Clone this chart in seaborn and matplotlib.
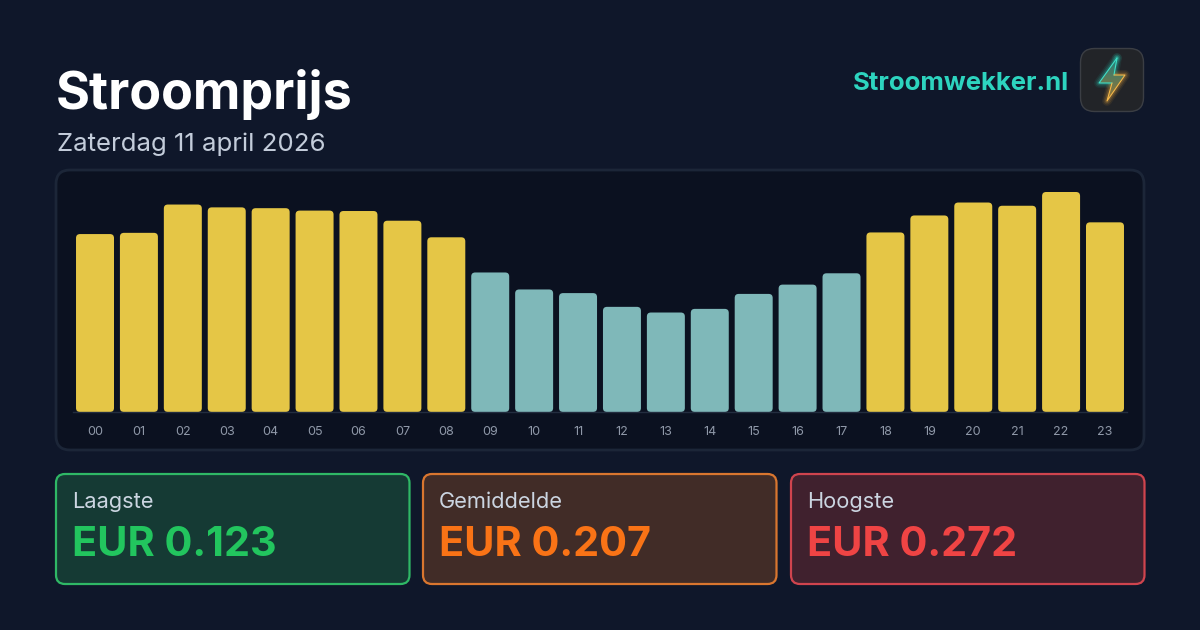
import numpy as np
import pandas as pd
import seaborn as sns
import matplotlib.pyplot as plt
from matplotlib.patches import FancyBboxPatch, Polygon

# data
hours = ['00', '01', '02', '03', '04', '05', '06', '07', '08', '09', '10', '11',
         '12', '13', '14', '15', '16', '17', '18', '19', '20', '21', '22', '23']
prices = [0.220, 0.2215, 0.2565, 0.253, 0.252, 0.249, 0.2485, 0.2365, 0.216, 0.1725, 0.1515, 0.147,
          0.130, 0.123, 0.1275, 0.146, 0.1575, 0.1715, 0.222, 0.243, 0.259, 0.255, 0.272, 0.2345]
levels = ['mid', 'mid', 'mid', 'mid', 'mid', 'mid', 'mid', 'mid', 'mid', 'low', 'low', 'low',
          'low', 'low', 'low', 'low', 'low', 'low', 'mid', 'mid', 'mid', 'mid', 'mid', 'mid']
level_colors = {'mid': '#e5c646', 'low': '#7fb8b9'}

stat_labels = ['Laagste', 'Gemiddelde', 'Hoogste']
stat_values = ['EUR 0.123', 'EUR 0.207', 'EUR 0.272']
stat_colors = ['#22c55e', '#f97316', '#ef4444']
stat_fills = ['#153a34', '#412c27', '#40212e']
stat_edges = ['#2fb866', '#d9762f', '#cf444e']
stat_left = [56, 423, 791]

FONT = 'Inter'
BG = '#0f172a'
px = 100 / 72  # pixel size -> points at dpi 100 is px / px

sns.set_theme(style='dark')
plt.rcParams['font.family'] = [FONT, 'DejaVu Sans']

fig = plt.figure(figsize=(12, 6.3), dpi=100, facecolor=BG)

# full-figure layer in pixel coordinates for the cards and the header
bg = fig.add_axes([0, 0, 1, 1], zorder=0)
bg.set_xlim(0, 1200)
bg.set_ylim(630, 0)
bg.axis('off')


def card(x, y, w, h, r, fill, edge, lw=1.5):
    bg.add_patch(FancyBboxPatch((x + r, y + r), w - 2 * r, h - 2 * r,
                                boxstyle=f'round,pad={r},rounding_size={r}',
                                facecolor=fill, edgecolor=edge, linewidth=lw))


def label(x, y, s, size, color, weight='normal', ha='left'):
    bg.text(x, y, s, fontsize=size / px, color=color, fontweight=weight, ha=ha, va='baseline')


# header
label(56, 108.5, 'Stroomprijs', 52, 'white', 'bold')
label(57, 151, 'Zaterdag 11 april 2026', 25.8, '#c3ccda')
label(1068.5, 90, 'Stroomwekker.nl', 25.7, '#2dd4bf', 'bold', ha='right')

# logo
card(1080.5, 48.5, 63, 63, 14, '#222428', '#3b3e44', lw=1)
bolt = [(1117, 58), (1099, 83), (1112, 83), (1107, 101), (1125, 75), (1114, 75)]
for lw, alpha in [(7, 0.08), (5, 0.12), (3, 0.18)]:
    bg.plot([1117, 1099, 1112], [58, 83, 83], color='#2dd4bf', lw=lw, alpha=alpha, solid_capstyle='round')
    bg.plot([1114, 1117], [75, 58], color='#2dd4bf', lw=lw, alpha=alpha, solid_capstyle='round')
    bg.plot([1112, 1107, 1125, 1114], [83, 101, 75, 75], color='#f5b041', lw=lw, alpha=alpha, solid_capstyle='round')
fill_grad = np.linspace(0, 1, 50).reshape(-1, 1)
teal = np.array([0.12, 0.50, 0.50])
amber = np.array([0.62, 0.45, 0.18])
grad_img = teal + (amber - teal) * fill_grad[..., None]
im = bg.imshow(grad_img, extent=(1095, 1130, 101, 58), aspect='auto', zorder=3)
im.set_clip_path(Polygon(bolt, closed=True, transform=bg.transData))
bg.set_xlim(0, 1200)
bg.set_ylim(630, 0)
bg.plot([1117, 1099, 1112], [58, 83, 83], color='#3fe0c8', lw=0.8, zorder=4)
bg.plot([1114, 1117], [75, 58], color='#3fe0c8', lw=0.8, zorder=4)
bg.plot([1112, 1107, 1125, 1114], [83, 101, 75, 75], color='#f5b84a', lw=0.8, zorder=4)

# chart panel
card(56, 170, 1088, 280, 14, '#0b1120', '#1c2638', lw=2)

# stat cards
for name, value, color, fill, edge, x in zip(stat_labels, stat_values, stat_colors,
                                              stat_fills, stat_edges, stat_left):
    card(x, 474, 353.5, 110, 9, fill, edge, lw=1.6)
    label(x + 16, 508, name, 21.8, '#cbd5e1')
    label(x + 16, 556, value, 41.4, color, 'bold')

# bars
ax = fig.add_axes([73.05 / 1200, (630 - 412) / 630, 1053.9 / 1200, 232 / 630], zorder=1)
ax.patch.set_alpha(0)
price_df = pd.DataFrame({'hour': hours, 'price': prices, 'level': levels})
sns.barplot(data=price_df, x='hour', y='price', hue='level', palette=level_colors,
            dodge=False, width=0.865, legend=False, ax=ax, saturation=1)
ax.set_xlim(-0.5, 23.5)
ax.set_ylim(0, 232 * 0.272 / 220)

# seaborn draws square bars, swap them for slightly rounded ones
x_unit = 1053.9 / 24
y_unit = 232 / ax.get_ylim()[1]
rad = 4 / x_unit
for bar in list(ax.patches):
    x0, y0, w, h = bar.get_x(), bar.get_y(), bar.get_width(), bar.get_height()
    if h == 0 or np.isnan(h):
        bar.remove()
        continue
    rr = FancyBboxPatch((x0 + rad, y0 + rad * x_unit / y_unit), w - 2 * rad, h - 2 * rad * x_unit / y_unit,
                        boxstyle=f'round,pad={rad},rounding_size={rad}',
                        mutation_aspect=x_unit / y_unit,
                        facecolor=bar.get_facecolor(), edgecolor='none')
    bar.remove()
    ax.add_patch(rr)

ax.set_xlabel('')
ax.set_ylabel('')
ax.set_yticks([])
ax.tick_params(axis='x', length=0, pad=10, labelsize=12.6 / px, labelcolor='#8f98a8')
ax.grid(False)
sns.despine(ax=ax, left=True, top=True, right=True)
ax.spines['bottom'].set_color('#232d3f')
ax.spines['bottom'].set_linewidth(1)

fig.savefig('out.png', dpi=100, facecolor=BG)
plt.close()
